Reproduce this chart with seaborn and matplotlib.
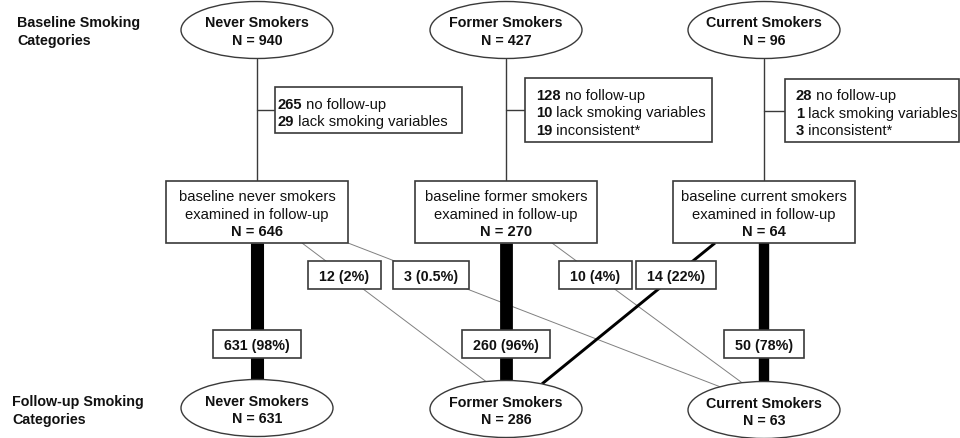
import matplotlib.pyplot as plt
import seaborn as sns
from matplotlib.patches import Ellipse, Rectangle

sns.set_theme(style='white')
plt.rcParams['font.family'] = ['Liberation Sans', 'DejaVu Sans']

# data
categories = ['Never Smokers', 'Former Smokers', 'Current Smokers']
group_words = ['never', 'former', 'current']
baseline_n = [940, 427, 96]
no_followup = [265, 128, 28]
lack_vars = [29, 10, 1]
inconsistent = [None, 19, 3]
examined_n = [646, 270, 64]
followup_n = [631, 286, 63]

trans_from = [0, 0, 0, 1, 1, 2, 2]
trans_to = [0, 1, 2, 1, 2, 1, 2]
trans_n = [631, 12, 3, 260, 10, 14, 50]
trans_pct = [98, 2, 0.5, 96, 4, 22, 78]

# layout (pixels, y downwards)
col_x = [257, 506, 764]
top_y = [31, 31, 31]
bot_y = [409, 410, 411]
ell_w, ell_h = 152, 57
mid_top, mid_bot, mid_w = 182, 244, 182
excl_box = [(275, 88, 462, 134), (525, 79, 712, 143), (785, 80, 959, 143)]
excl_text_x = [278, 536, 796]
start_dx = {(0, 1): 45, (0, 2): 91, (1, 2): 46, (2, 1): -49}
end_dx = {(0, 1): -20, (0, 2): -44, (1, 2): -22, (2, 1): 36}

TXT = '#111111'
EDGE = '#3a3a3a'
FS_B = 10.3
FS_R = 10.6

fig = plt.figure(figsize=(9.6, 4.39), dpi=100)
ax = fig.add_axes([0, 0, 1, 1])
ax.set_xlim(0, 960)
ax.set_ylim(439, 0)
ax.axis('off')


def two_lines(x, y, a, b, ha='center', gap=17.5):
    for k, s in enumerate([a, b]):
        ax.text(x, y - gap / 2 + gap * k, s, ha=ha, va='center', fontsize=FS_B,
                fontweight='bold', color=TXT, zorder=6)


def ellipse_top(i, dx):
    a, b = ell_w / 2, ell_h / 2
    return bot_y[i] - b * (1 - (dx / a) ** 2) ** 0.5


def label_box(x, y, s):
    t = ax.text(x, y + 1, s, ha='center', va='center', fontsize=FS_B,
                fontweight='bold', color=TXT, zorder=6)
    fig.canvas.draw()
    bb = t.get_window_extent().transformed(ax.transData.inverted())
    w = abs(bb.x1 - bb.x0) + 22
    ax.add_patch(Rectangle((x - w / 2, y - 14), w, 28, fc='white',
                           ec=EDGE, lw=1.2, zorder=5))


# row labels
two_lines(17, 32, 'Baseline Smoking', 'Categories', ha='left')
two_lines(12, 411, 'Follow-up Smoking', 'Categories', ha='left')

for i, name in enumerate(categories):
    x = col_x[i]
    # baseline ellipse
    ax.add_patch(Ellipse((x, top_y[i]), ell_w, ell_h, fc='white', ec=EDGE,
                         lw=1.0, zorder=5))
    two_lines(x, top_y[i] + 1, name, f'N = {baseline_n[i]}')
    # follow-up ellipse
    ax.add_patch(Ellipse((x, bot_y[i]), ell_w, ell_h, fc='white', ec=EDGE,
                         lw=1.0, zorder=5))
    two_lines(x, bot_y[i] + 1.5, name, f'N = {followup_n[i]}')

    # stem from baseline to examined box
    ax.plot([x, x], [top_y[i] + ell_h / 2, mid_top], color=EDGE, lw=1.0,
            zorder=2)

    # exclusion box
    l, t, r, b = excl_box[i]
    ax.plot([x, l], [(t + b) / 2] * 2, color=EDGE, lw=1.0, zorder=2)
    ax.add_patch(Rectangle((l, t), r - l, b - t, fc='white', ec=EDGE,
                           lw=1.2, zorder=5))
    rows = [(no_followup[i], ' no follow-up'),
            (lack_vars[i], ' lack smoking variables')]
    if inconsistent[i] is not None:
        rows.append((inconsistent[i], ' inconsistent*'))
    y0 = (t + b) / 2 - 17.5 * (len(rows) - 1) / 2 + 2.5
    for k, (num, rest) in enumerate(rows):
        tn = ax.text(excl_text_x[i], y0 + 17.5 * k, str(num), ha='left',
                     va='center', fontsize=FS_R, fontweight='bold',
                     color=TXT, zorder=6)
        ax.annotate(rest, xy=(1, 0.5), xycoords=tn, ha='left', va='center',
                    fontsize=FS_R, color=TXT, zorder=6)

    # examined box
    ax.add_patch(Rectangle((x - mid_w / 2, mid_top), mid_w, mid_bot - mid_top,
                           fc='white', ec=EDGE, lw=1.2, zorder=5))
    for yy, s, wt in [(197.5, f'baseline {group_words[i]} smokers', 'normal'),
                      (215, 'examined in follow-up', 'normal'),
                      (232, f'N = {examined_n[i]}', 'bold')]:
        ax.text(x, yy, s, ha='center', va='center', fontsize=FS_R,
                fontweight=wt, color=TXT, zorder=6)

# transitions
for f, t, n, p in zip(trans_from, trans_to, trans_n, trans_pct):
    sx = col_x[f] + start_dx.get((f, t), 0)
    edx = end_dx.get((f, t), 0)
    ex = col_x[t] + edx
    ey = ellipse_top(t, edx)
    heavy = p >= 10
    lw = p * 0.096 if heavy else 0.7
    ax.plot([sx, ex], [mid_bot, ey], color='black' if heavy else '#808080',
            lw=lw, solid_capstyle='butt', zorder=3)
    ly = 345 if f == t else 276
    lx = sx + (ex - sx) * (ly - mid_bot) / (ey - mid_bot)
    label_box(lx, ly, f'{n} ({p:g}%)')

fig.savefig('out.png', dpi=100, facecolor='white')
